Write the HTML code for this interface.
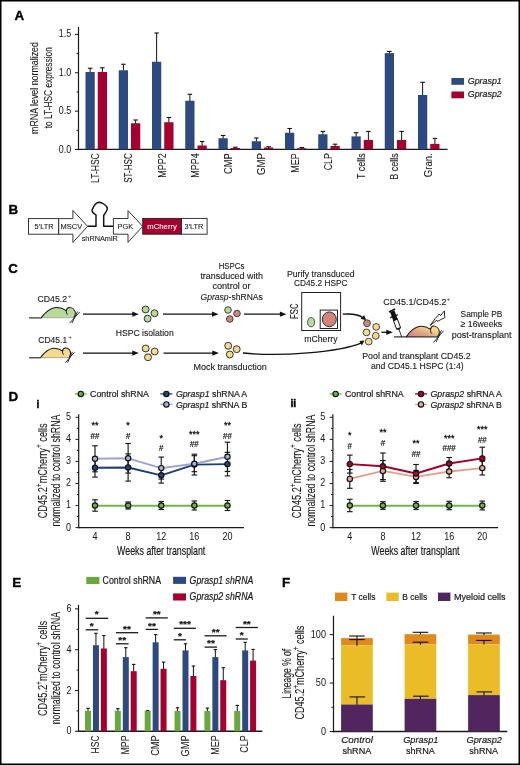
<!DOCTYPE html>
<html><head><meta charset="utf-8"><style>
html,body{margin:0;padding:0;background:#fff;}
svg{display:block;will-change:transform;}
text{font-family:"Liberation Sans", sans-serif;}
</style></head><body>
<svg width="520" height="765" viewBox="0 0 520 765" font-family='"Liberation Sans", sans-serif'>
<rect x="0" y="0" width="520" height="765" fill="#fff"/>
<text x="14.6" y="19.9" font-size="13.4" text-anchor="start" fill="#000" stroke="#000" stroke-width="0.35" style="font-weight:bold;">A</text>
<line x1="78.5" y1="27" x2="78.5" y2="150.1" stroke="#1a1a1a" stroke-width="1.2"/>
<line x1="77.9" y1="149.35" x2="447.6" y2="149.35" stroke="#1a1a1a" stroke-width="1.4"/>
<line x1="75" y1="34.4" x2="78.5" y2="34.4" stroke="#1a1a1a" stroke-width="1"/>
<text x="71.2" y="37.4" font-size="11.2" text-anchor="end" fill="#1a1a1a" stroke="#1a1a1a" stroke-width="0.02" textLength="12.45" lengthAdjust="spacingAndGlyphs">1.5</text>
<line x1="75" y1="72.77" x2="78.5" y2="72.77" stroke="#1a1a1a" stroke-width="1"/>
<text x="71.2" y="75.77" font-size="11.2" text-anchor="end" fill="#1a1a1a" stroke="#1a1a1a" stroke-width="0.02" textLength="12.45" lengthAdjust="spacingAndGlyphs">1.0</text>
<line x1="75" y1="111.13" x2="78.5" y2="111.13" stroke="#1a1a1a" stroke-width="1"/>
<text x="71.2" y="114.13" font-size="11.2" text-anchor="end" fill="#1a1a1a" stroke="#1a1a1a" stroke-width="0.02" textLength="12.45" lengthAdjust="spacingAndGlyphs">0.5</text>
<line x1="75" y1="149.5" x2="78.5" y2="149.5" stroke="#1a1a1a" stroke-width="1"/>
<text x="71.2" y="152.5" font-size="11.2" text-anchor="end" fill="#1a1a1a" stroke="#1a1a1a" stroke-width="0.02" textLength="12.45" lengthAdjust="spacingAndGlyphs">0.0</text>
<line x1="76.6" y1="53.6" x2="78.5" y2="53.6" stroke="#1a1a1a" stroke-width="1"/>
<line x1="76.6" y1="91.95" x2="78.5" y2="91.95" stroke="#1a1a1a" stroke-width="1"/>
<line x1="76.6" y1="130.3" x2="78.5" y2="130.3" stroke="#1a1a1a" stroke-width="1"/>
<text transform="translate(38.1 133.9) rotate(-90)" font-size="11.5" text-anchor="start" fill="#1a1a1a" stroke="#1a1a1a" stroke-width="0.08" textLength="91.8" lengthAdjust="spacingAndGlyphs">mRNA level normalized</text>
<text transform="translate(51.9 128.2) rotate(-90)" font-size="11.5" text-anchor="start" fill="#1a1a1a" stroke="#1a1a1a" stroke-width="0.08" textLength="81" lengthAdjust="spacingAndGlyphs">to LT-HSC expression</text>
<line x1="90.12" y1="68.25" x2="90.12" y2="72.5" stroke="#111" stroke-width="1"/>
<line x1="87.88" y1="68.25" x2="92.38" y2="68.25" stroke="#111" stroke-width="1.1"/>
<line x1="102.38" y1="67.75" x2="102.38" y2="72.5" stroke="#111" stroke-width="1"/>
<line x1="100.12" y1="67.75" x2="104.62" y2="67.75" stroke="#111" stroke-width="1.1"/>
<rect x="85.5" y="72" width="9.25" height="77.35" fill="#2d4a80"/>
<rect x="97.75" y="72" width="9.25" height="77.35" fill="#a5002e"/>
<text transform="translate(99 153.2) rotate(-90)" font-size="10.8" text-anchor="end" fill="#1a1a1a" stroke="#1a1a1a" stroke-width="0.08" textLength="29.8" lengthAdjust="spacingAndGlyphs">LT-HSC</text>
<line x1="123.38" y1="64.25" x2="123.38" y2="70.75" stroke="#111" stroke-width="1"/>
<line x1="121.12" y1="64.25" x2="125.62" y2="64.25" stroke="#111" stroke-width="1.1"/>
<line x1="135.62" y1="120" x2="135.62" y2="123.75" stroke="#111" stroke-width="1"/>
<line x1="133.38" y1="120" x2="137.88" y2="120" stroke="#111" stroke-width="1.1"/>
<rect x="118.75" y="70.25" width="9.25" height="79.1" fill="#2d4a80"/>
<rect x="131" y="123.25" width="9.25" height="26.1" fill="#a5002e"/>
<text transform="translate(132.25 153.2) rotate(-90)" font-size="10.8" text-anchor="end" fill="#1a1a1a" stroke="#1a1a1a" stroke-width="0.08" textLength="29.6" lengthAdjust="spacingAndGlyphs">ST-HSC</text>
<line x1="156.62" y1="33" x2="156.62" y2="62.25" stroke="#111" stroke-width="1"/>
<line x1="154.38" y1="33" x2="158.88" y2="33" stroke="#111" stroke-width="1.1"/>
<line x1="168.88" y1="117.5" x2="168.88" y2="122.75" stroke="#111" stroke-width="1"/>
<line x1="166.62" y1="117.5" x2="171.12" y2="117.5" stroke="#111" stroke-width="1.1"/>
<rect x="152" y="61.75" width="9.25" height="87.6" fill="#2d4a80"/>
<rect x="164.25" y="122.25" width="9.25" height="27.1" fill="#a5002e"/>
<text transform="translate(165.5 153.2) rotate(-90)" font-size="10.8" text-anchor="end" fill="#1a1a1a" stroke="#1a1a1a" stroke-width="0.08" textLength="24.5" lengthAdjust="spacingAndGlyphs">MPP2</text>
<line x1="189.88" y1="94.25" x2="189.88" y2="101.25" stroke="#111" stroke-width="1"/>
<line x1="187.62" y1="94.25" x2="192.12" y2="94.25" stroke="#111" stroke-width="1.1"/>
<line x1="202.12" y1="141.5" x2="202.12" y2="146" stroke="#111" stroke-width="1"/>
<line x1="199.88" y1="141.5" x2="204.38" y2="141.5" stroke="#111" stroke-width="1.1"/>
<rect x="185.25" y="100.75" width="9.25" height="48.6" fill="#2d4a80"/>
<rect x="197.5" y="145.5" width="9.25" height="3.85" fill="#a5002e"/>
<text transform="translate(198.75 153.2) rotate(-90)" font-size="10.8" text-anchor="end" fill="#1a1a1a" stroke="#1a1a1a" stroke-width="0.08" textLength="24.5" lengthAdjust="spacingAndGlyphs">MPP4</text>
<line x1="223.12" y1="135.5" x2="223.12" y2="138.75" stroke="#111" stroke-width="1"/>
<line x1="220.88" y1="135.5" x2="225.38" y2="135.5" stroke="#111" stroke-width="1.1"/>
<line x1="235.38" y1="147.25" x2="235.38" y2="148.5" stroke="#111" stroke-width="1"/>
<line x1="233.12" y1="147.25" x2="237.62" y2="147.25" stroke="#111" stroke-width="1.1"/>
<rect x="218.5" y="138.25" width="9.25" height="11.1" fill="#2d4a80"/>
<rect x="230.75" y="148" width="9.25" height="1.35" fill="#a5002e"/>
<text transform="translate(232 153.2) rotate(-90)" font-size="10.8" text-anchor="end" fill="#1a1a1a" stroke="#1a1a1a" stroke-width="0.08" textLength="20.8" lengthAdjust="spacingAndGlyphs">CMP</text>
<line x1="256.38" y1="138" x2="256.38" y2="141.75" stroke="#111" stroke-width="1"/>
<line x1="254.12" y1="138" x2="258.62" y2="138" stroke="#111" stroke-width="1.1"/>
<line x1="268.62" y1="146.75" x2="268.62" y2="148" stroke="#111" stroke-width="1"/>
<line x1="266.38" y1="146.75" x2="270.88" y2="146.75" stroke="#111" stroke-width="1.1"/>
<rect x="251.75" y="141.25" width="9.25" height="8.1" fill="#2d4a80"/>
<rect x="264" y="147.5" width="9.25" height="1.85" fill="#a5002e"/>
<text transform="translate(265.25 153.2) rotate(-90)" font-size="10.8" text-anchor="end" fill="#1a1a1a" stroke="#1a1a1a" stroke-width="0.08" textLength="21.9" lengthAdjust="spacingAndGlyphs">GMP</text>
<line x1="289.62" y1="128.5" x2="289.62" y2="133.25" stroke="#111" stroke-width="1"/>
<line x1="287.38" y1="128.5" x2="291.88" y2="128.5" stroke="#111" stroke-width="1.1"/>
<line x1="301.88" y1="147.5" x2="301.88" y2="148.75" stroke="#111" stroke-width="1"/>
<line x1="299.62" y1="147.5" x2="304.12" y2="147.5" stroke="#111" stroke-width="1.1"/>
<rect x="285" y="132.75" width="9.25" height="16.6" fill="#2d4a80"/>
<rect x="297.25" y="148.25" width="9.25" height="1.1" fill="#a5002e"/>
<text transform="translate(298.5 153.2) rotate(-90)" font-size="10.8" text-anchor="end" fill="#1a1a1a" stroke="#1a1a1a" stroke-width="0.08" textLength="19.6" lengthAdjust="spacingAndGlyphs">MEP</text>
<line x1="322.88" y1="131.4" x2="322.88" y2="134.8" stroke="#111" stroke-width="1"/>
<line x1="320.62" y1="131.4" x2="325.12" y2="131.4" stroke="#111" stroke-width="1.1"/>
<line x1="335.12" y1="144.2" x2="335.12" y2="146.5" stroke="#111" stroke-width="1"/>
<line x1="332.88" y1="144.2" x2="337.38" y2="144.2" stroke="#111" stroke-width="1.1"/>
<rect x="318.25" y="134.3" width="9.25" height="15.05" fill="#2d4a80"/>
<rect x="330.5" y="146" width="9.25" height="3.35" fill="#a5002e"/>
<text transform="translate(331.75 153.2) rotate(-90)" font-size="10.8" text-anchor="end" fill="#1a1a1a" stroke="#1a1a1a" stroke-width="0.08" textLength="17.1" lengthAdjust="spacingAndGlyphs">CLP</text>
<line x1="356.12" y1="132.7" x2="356.12" y2="136.9" stroke="#111" stroke-width="1"/>
<line x1="353.88" y1="132.7" x2="358.38" y2="132.7" stroke="#111" stroke-width="1.1"/>
<line x1="368.38" y1="131.4" x2="368.38" y2="140.5" stroke="#111" stroke-width="1"/>
<line x1="366.12" y1="131.4" x2="370.62" y2="131.4" stroke="#111" stroke-width="1.1"/>
<rect x="351.5" y="136.4" width="9.25" height="12.95" fill="#2d4a80"/>
<rect x="363.75" y="140" width="9.25" height="9.35" fill="#a5002e"/>
<text transform="translate(365 153.2) rotate(-90)" font-size="10.8" text-anchor="end" fill="#1a1a1a" stroke="#1a1a1a" stroke-width="0.08" textLength="25.8" lengthAdjust="spacingAndGlyphs">T cells</text>
<line x1="389.38" y1="51.4" x2="389.38" y2="53.6" stroke="#111" stroke-width="1"/>
<line x1="387.12" y1="51.4" x2="391.62" y2="51.4" stroke="#111" stroke-width="1.1"/>
<line x1="401.62" y1="131.4" x2="401.62" y2="140.5" stroke="#111" stroke-width="1"/>
<line x1="399.38" y1="131.4" x2="403.88" y2="131.4" stroke="#111" stroke-width="1.1"/>
<rect x="384.75" y="53.1" width="9.25" height="96.25" fill="#2d4a80"/>
<rect x="397" y="140" width="9.25" height="9.35" fill="#a5002e"/>
<text transform="translate(398.25 153.2) rotate(-90)" font-size="10.8" text-anchor="end" fill="#1a1a1a" stroke="#1a1a1a" stroke-width="0.08" textLength="26.5" lengthAdjust="spacingAndGlyphs">B cells</text>
<line x1="422.62" y1="82.3" x2="422.62" y2="95.5" stroke="#111" stroke-width="1"/>
<line x1="420.38" y1="82.3" x2="424.88" y2="82.3" stroke="#111" stroke-width="1.1"/>
<line x1="434.88" y1="138.4" x2="434.88" y2="144.4" stroke="#111" stroke-width="1"/>
<line x1="432.62" y1="138.4" x2="437.12" y2="138.4" stroke="#111" stroke-width="1.1"/>
<rect x="418" y="95" width="9.25" height="54.35" fill="#2d4a80"/>
<rect x="430.25" y="143.9" width="9.25" height="5.45" fill="#a5002e"/>
<text transform="translate(431.5 153.2) rotate(-90)" font-size="10.8" text-anchor="end" fill="#1a1a1a" stroke="#1a1a1a" stroke-width="0.08" textLength="24.1" lengthAdjust="spacingAndGlyphs">Gran.</text>
<rect x="451.4" y="78" width="12.6" height="6.8" fill="#2d4a80"/>
<rect x="451.4" y="91.5" width="12.6" height="6.8" fill="#a5002e"/>
<text x="467.8" y="84.1" font-size="9.4" text-anchor="start" fill="#1a1a1a" stroke="#1a1a1a" stroke-width="0.2" style="font-style:italic;" textLength="34" lengthAdjust="spacingAndGlyphs">Gprasp1</text>
<text x="467.8" y="97.4" font-size="9.4" text-anchor="start" fill="#1a1a1a" stroke="#1a1a1a" stroke-width="0.2" style="font-style:italic;" textLength="34" lengthAdjust="spacingAndGlyphs">Gprasp2</text>
<text x="8.6" y="213.6" font-size="13.4" text-anchor="start" fill="#000" stroke="#000" stroke-width="0.35" style="font-weight:bold;">B</text>
<rect x="28.5" y="218.6" width="30.2" height="15.6" fill="#fff" stroke="#222" stroke-width="0.9"/>
<polygon points="58.7,218.6 72.9,218.6 72.9,210.4 87.6,226.4 72.9,242.4 72.9,234.2 58.7,234.2" fill="#fff" stroke="#222" stroke-width="0.9"/>
<path d="M87.6,226.2 L96,226.2 L96,214.8 C93.5,213.5 91.2,212.2 92.2,209.6 C93.6,206.3 96.2,202.4 99,202.3 C101.8,202.4 106,205 107.2,207.6 C108,209.8 105.6,212.8 103.7,215.3 L103.7,226.2 L113.5,226.2" fill="none" stroke="#111" stroke-width="1.45" stroke-linejoin="round"/>
<polygon points="113.4,218.5 128,218.5 128,210.6 142.7,226.4 128,242.3 128,234.2 113.4,234.2" fill="#fff" stroke="#222" stroke-width="0.9"/>
<rect x="142.7" y="218.4" width="38.8" height="15.8" fill="#a5002e" stroke="#222" stroke-width="0.9"/>
<rect x="181.5" y="218.4" width="25.6" height="15.8" fill="#fff" stroke="#222" stroke-width="0.9"/>
<text x="34.5" y="228.8" font-size="7.9" text-anchor="start" fill="#1a1a1a" stroke="#1a1a1a" stroke-width="0.1" textLength="18.9" lengthAdjust="spacingAndGlyphs">5’LTR</text>
<text x="60.5" y="228.8" font-size="7.9" text-anchor="start" fill="#1a1a1a" stroke="#1a1a1a" stroke-width="0.1" textLength="21.7" lengthAdjust="spacingAndGlyphs">MSCV</text>
<text x="117.5" y="228.8" font-size="7.9" text-anchor="start" fill="#1a1a1a" stroke="#1a1a1a" stroke-width="0.1" textLength="15.6" lengthAdjust="spacingAndGlyphs">PGK</text>
<text x="147.3" y="228.8" font-size="7.9" text-anchor="start" fill="#fff" stroke="#fff" stroke-width="0.1" textLength="29.6" lengthAdjust="spacingAndGlyphs">mCherry</text>
<text x="184.4" y="228.8" font-size="7.9" text-anchor="start" fill="#1a1a1a" stroke="#1a1a1a" stroke-width="0.1" textLength="18.9" lengthAdjust="spacingAndGlyphs">3’LTR</text>
<text x="81.7" y="241.4" font-size="7.9" text-anchor="start" fill="#1a1a1a" stroke="#1a1a1a" stroke-width="0.1" textLength="36.2" lengthAdjust="spacingAndGlyphs">shRNAmiR</text>
<text x="8.3" y="273" font-size="13.4" text-anchor="start" fill="#000" stroke="#000" stroke-width="0.35" style="font-weight:bold;">C</text>
<defs><linearGradient id="mg" x1="0.15" y1="1" x2="0.95" y2="0.25"><stop offset="0" stop-color="#d4837c"/><stop offset="0.45" stop-color="#e0a487"/><stop offset="0.72" stop-color="#eac48a"/><stop offset="0.85" stop-color="#f4d98c"/></linearGradient></defs>
<text x="37.5" y="302" font-size="9.6" text-anchor="start" fill="#1a1a1a" stroke="#1a1a1a" stroke-width="0.12" textLength="29.6" lengthAdjust="spacingAndGlyphs">CD45.2</text>
<text x="67.9" y="298.2" font-size="5.6" text-anchor="start" fill="#1a1a1a">+</text>
<text x="38.3" y="342.5" font-size="9.6" text-anchor="start" fill="#1a1a1a" stroke="#1a1a1a" stroke-width="0.12" textLength="28.9" lengthAdjust="spacingAndGlyphs">CD45.1</text>
<text x="68.4" y="338.7" font-size="5.6" text-anchor="start" fill="#1a1a1a">+</text>
<path d="M41.1,317.9 C44.3,313.7 49.1,308.3 55.5,307.6 C59.6,307.2 63.5,308.7 66.3,310.6 C66.6,308.6 67.7,307.4 69.5,307.4 C72.1,307.4 74.7,309.5 75.3,312.3 C75.7,314.5 74.8,316.4 73.6,317.6 L41.1,317.9 Z" fill="#b7d99c" stroke="none"/>
<line x1="41.1" y1="317.7" x2="73.6" y2="317.7" stroke="#9a9a9a" stroke-width="0.8"/>
<path d="M41.1,317.9 C44.3,313.7 49.1,308.3 55.5,307.6 C59.6,307.2 63.5,308.7 66.3,310.6 C66.6,308.6 67.7,307.4 69.5,307.4 C72.1,307.4 74.7,309.5 75.3,312.3 C75.7,314.5 74.8,316.4 73.6,317.6" fill="none" stroke="#1a1a1a" stroke-width="1.05" stroke-linejoin="round"/>
<path d="M66.3,310.6 C66.1,312.3 66.6,313.9 67.5,314.7" fill="none" stroke="#1a1a1a" stroke-width="1.0"/>
<line x1="29" y1="317.9" x2="41.4" y2="317.9" stroke="#1a1a1a" stroke-width="1.1"/>
<path d="M69.5,323.2 L79.8,311.9 M72,323 L77.5,311.5" stroke="#1a1a1a" stroke-width="0.9" fill="none"/>
<path d="M40.4,357.8 C43.22,353.89 47.44,348.87 53.07,348.22 C56.68,347.85 60.11,349.24 62.58,351.01 C62.84,349.15 63.81,348.04 65.39,348.04 C67.68,348.04 69.97,349.99 70.5,352.59 C70.85,354.64 70.06,356.41 69,357.52 L40.4,357.8 Z" fill="#f6d98a" stroke="none"/>
<line x1="40.4" y1="357.6" x2="69" y2="357.6" stroke="#9a9a9a" stroke-width="0.8"/>
<path d="M40.4,357.8 C43.22,353.89 47.44,348.87 53.07,348.22 C56.68,347.85 60.11,349.24 62.58,351.01 C62.84,349.15 63.81,348.04 65.39,348.04 C67.68,348.04 69.97,349.99 70.5,352.59 C70.85,354.64 70.06,356.41 69,357.52" fill="none" stroke="#1a1a1a" stroke-width="1.05" stroke-linejoin="round"/>
<path d="M62.58,351.01 C62.4,352.59 62.84,354.08 63.63,354.82" fill="none" stroke="#1a1a1a" stroke-width="1.0"/>
<line x1="29.1" y1="357.8" x2="40.7" y2="357.8" stroke="#1a1a1a" stroke-width="1.1"/>
<path d="M65.39,362.73 L74.46,352.22 M67.59,362.54 L72.43,351.85" stroke="#1a1a1a" stroke-width="0.9" fill="none"/>
<line x1="83" y1="314.2" x2="133.8" y2="314.2" stroke="#111" stroke-width="1.3"/>
<polygon points="132.3,311.6 138.8,314.2 132.3,316.8" fill="#111"/>
<circle cx="145.6" cy="309.5" r="3.45" fill="#b7d99c" stroke="#2a2a2a" stroke-width="0.95"/>
<circle cx="154.5" cy="313.2" r="3.45" fill="#b7d99c" stroke="#2a2a2a" stroke-width="0.95"/>
<circle cx="147.6" cy="318.6" r="3.45" fill="#b7d99c" stroke="#2a2a2a" stroke-width="0.95"/>
<line x1="163" y1="314.2" x2="213.5" y2="314.2" stroke="#111" stroke-width="1.3"/>
<polygon points="212,311.6 218.5,314.2 212,316.8" fill="#111"/>
<circle cx="228" cy="310" r="3.3" fill="#b7d99c" stroke="#333" stroke-width="0.9"/>
<circle cx="237" cy="313.5" r="3.3" fill="#d4857a" stroke="#333" stroke-width="0.9"/>
<circle cx="229.8" cy="319" r="3.3" fill="#d4857a" stroke="#333" stroke-width="0.9"/>
<line x1="244" y1="314.2" x2="281.4" y2="314.2" stroke="#111" stroke-width="1.3"/>
<polygon points="279.9,311.6 286.4,314.2 279.9,316.8" fill="#111"/>
<line x1="83" y1="353.1" x2="133.8" y2="353.1" stroke="#111" stroke-width="1.3"/>
<polygon points="132.3,350.5 138.8,353.1 132.3,355.7" fill="#111"/>
<circle cx="145.7" cy="348.5" r="3.45" fill="#f6d98a" stroke="#2a2a2a" stroke-width="0.95"/>
<circle cx="154.7" cy="351.5" r="3.45" fill="#f6d98a" stroke="#2a2a2a" stroke-width="0.95"/>
<circle cx="148" cy="357.3" r="3.45" fill="#f6d98a" stroke="#2a2a2a" stroke-width="0.95"/>
<line x1="163.5" y1="353.1" x2="213.9" y2="353.1" stroke="#111" stroke-width="1.3"/>
<polygon points="212.4,350.5 218.9,353.1 212.4,355.7" fill="#111"/>
<circle cx="228.2" cy="345.8" r="3.45" fill="#f6d98a" stroke="#2a2a2a" stroke-width="0.95"/>
<circle cx="236.7" cy="349.2" r="3.45" fill="#f6d98a" stroke="#2a2a2a" stroke-width="0.95"/>
<circle cx="229.8" cy="354.5" r="3.45" fill="#f6d98a" stroke="#2a2a2a" stroke-width="0.95"/>
<text x="115.8" y="336" font-size="9.6" text-anchor="start" fill="#1a1a1a" stroke="#1a1a1a" stroke-width="0.12" textLength="57.9" lengthAdjust="spacingAndGlyphs">HSPC isolation</text>
<text x="218.7" y="268.7" font-size="9.6" text-anchor="start" fill="#1a1a1a" stroke="#1a1a1a" stroke-width="0.12" textLength="25.8" lengthAdjust="spacingAndGlyphs">HSPCs</text>
<text x="200.4" y="279.2" font-size="9.6" text-anchor="start" fill="#1a1a1a" stroke="#1a1a1a" stroke-width="0.12" textLength="62.5" lengthAdjust="spacingAndGlyphs">transduced with</text>
<text x="212.4" y="289.4" font-size="9.6" text-anchor="start" fill="#1a1a1a" stroke="#1a1a1a" stroke-width="0.12" textLength="38.1" lengthAdjust="spacingAndGlyphs">control or</text>
<text x="200.6" y="299.6" font-size="9.6" text-anchor="start" fill="#1a1a1a" stroke="#1a1a1a" stroke-width="0.12" textLength="62.2" lengthAdjust="spacingAndGlyphs"><tspan style="font-style:italic">Gprasp</tspan>-shRNAs</text>
<text x="286.9" y="276.7" font-size="9.6" text-anchor="start" fill="#1a1a1a" stroke="#1a1a1a" stroke-width="0.12" textLength="67.7" lengthAdjust="spacingAndGlyphs">Purify transduced</text>
<text x="294" y="286.3" font-size="9.6" text-anchor="start" fill="#1a1a1a" stroke="#1a1a1a" stroke-width="0.12" textLength="53.5" lengthAdjust="spacingAndGlyphs">CD45.2 HSPC</text>
<text x="193.5" y="369.5" font-size="9.6" text-anchor="start" fill="#1a1a1a" stroke="#1a1a1a" stroke-width="0.12" textLength="73.2" lengthAdjust="spacingAndGlyphs">Mock transduction</text>
<rect x="301.7" y="292.5" width="38.9" height="38" fill="#fff" stroke="#222" stroke-width="1"/>
<rect x="320.2" y="310.1" width="17.3" height="18.4" fill="none" stroke="#222" stroke-width="1"/>
<ellipse cx="329.3" cy="319.3" rx="7" ry="7.4" fill="#d4857a" stroke="#222" stroke-width="0.9"/>
<ellipse cx="311.1" cy="322.2" rx="3.5" ry="4.6" fill="#b7d99c" stroke="#333" stroke-width="0.8"/>
<text transform="translate(297.6 318.9) rotate(-90)" font-size="10" text-anchor="start" fill="#1a1a1a" stroke="#1a1a1a" stroke-width="0.12" textLength="15.3" lengthAdjust="spacingAndGlyphs">FSC</text>
<text x="304.3" y="341.6" font-size="9.6" text-anchor="start" fill="#1a1a1a" stroke="#1a1a1a" stroke-width="0.12" textLength="33.2" lengthAdjust="spacingAndGlyphs">mCherry</text>
<path d="M342.7,314.2 C352,313.5 359,314.5 363.5,318" fill="none" stroke="#111" stroke-width="1.3"/>
<polygon points="366.2,320.3 360.5,318.8 364.2,315.2" fill="#111"/>
<path d="M243,353 C280,357 340,352 361.5,342.8" fill="none" stroke="#111" stroke-width="1.3"/>
<polygon points="364.5,340.5 361.9,345.6 359.4,340.9" fill="#111"/>
<circle cx="367" cy="323.2" r="3.4" fill="#d4857a" stroke="#333" stroke-width="0.9"/>
<circle cx="376.2" cy="326.9" r="3.4" fill="#f6d98a" stroke="#333" stroke-width="0.9"/>
<circle cx="366.5" cy="332.4" r="3.4" fill="#f6d98a" stroke="#333" stroke-width="0.9"/>
<circle cx="375.8" cy="335.8" r="3.4" fill="#f6d98a" stroke="#333" stroke-width="0.9"/>
<circle cx="368.7" cy="341.6" r="3.4" fill="#f6d98a" stroke="#333" stroke-width="0.9"/>
<line x1="381.4" y1="332.3" x2="387.8" y2="332.3" stroke="#111" stroke-width="1.3"/>
<polygon points="386.3,329.7 392.8,332.3 386.3,334.9" fill="#111"/>
<text x="362.2" y="358.7" font-size="9.6" text-anchor="start" fill="#1a1a1a" stroke="#1a1a1a" stroke-width="0.12" textLength="108.5" lengthAdjust="spacingAndGlyphs">Pool and transplant CD45.2</text>
<text x="370.9" y="368.6" font-size="9.6" text-anchor="start" fill="#1a1a1a" stroke="#1a1a1a" stroke-width="0.12" textLength="92.7" lengthAdjust="spacingAndGlyphs">and CD45.1 HSPC (1:4)</text>
<g transform="translate(401.7 336.8) rotate(-20.3)"><line x1="0" y1="0" x2="0" y2="-8" stroke="#222" stroke-width="0.85"/><polygon points="-1.1,-7.6 1.1,-7.6 2,-9.2 -2,-9.2" fill="#111"/><rect x="-2.1" y="-18" width="4.2" height="9" fill="#fff" stroke="#111" stroke-width="0.95"/><rect x="-2.35" y="-27.2" width="4.7" height="9.6" fill="#111"/><rect x="-4.2" y="-22.6" width="8.4" height="1.2" fill="#111"/><polygon points="-3.4,-27 3.6,-27.6 3.6,-29.2 -3.4,-28.4" fill="#111"/></g>
<path d="M406.1,336.9 C409.2,332.57 413.86,327.01 420.07,326.29 C424.05,325.88 427.83,327.42 430.54,329.38 C430.84,327.32 431.9,326.08 433.65,326.08 C436.17,326.08 438.69,328.25 439.27,331.13 C439.66,333.4 438.79,335.35 437.62,336.59 L406.1,336.9 Z" fill="url(#mg)" stroke="none"/>
<path d="M406.1,336.9 C409.2,332.57 413.86,327.01 420.07,326.29 C424.05,325.88 427.83,327.42 430.54,329.38 C430.84,327.32 431.9,326.08 433.65,326.08 C436.17,326.08 438.69,328.25 439.27,331.13 C439.66,333.4 438.79,335.35 437.62,336.59" fill="none" stroke="#1a1a1a" stroke-width="1.05" stroke-linejoin="round"/>
<path d="M430.54,329.38 C430.35,331.13 430.84,332.78 431.71,333.6" fill="none" stroke="#1a1a1a" stroke-width="1.0"/>
<line x1="393.9" y1="336.9" x2="406.4" y2="336.9" stroke="#1a1a1a" stroke-width="1.1"/>
<line x1="406.1" y1="336.9" x2="438" y2="336.9" stroke="#1a1a1a" stroke-width="1.1"/>
<path d="M433.65,342.36 L443.64,330.72 M436.07,342.15 L441.41,330.31" stroke="#1a1a1a" stroke-width="0.9" fill="none"/>
<path d="M430.2,325.4 L435.5,318.2 L439.3,314.0 L440.4,315.6 L444.3,310.9 L444.8,317.6 L440.8,319.6 L437.5,321.4 L436.8,320.2 Z" fill="#fff" stroke="#111" stroke-width="0.9" stroke-linejoin="round"/>
<text x="383.2" y="304.8" font-size="9.6" text-anchor="start" fill="#1a1a1a" stroke="#1a1a1a" stroke-width="0.12" textLength="63.2" lengthAdjust="spacingAndGlyphs">CD45.1/CD45.2</text>
<text x="446.8" y="301" font-size="5.6" text-anchor="start" fill="#1a1a1a">+</text>
<text x="460.6" y="316.5" font-size="9.6" text-anchor="start" fill="#1a1a1a" stroke="#1a1a1a" stroke-width="0.12" textLength="41.8" lengthAdjust="spacingAndGlyphs">Sample PB</text>
<text x="460.6" y="327" font-size="9.6" text-anchor="start" fill="#1a1a1a" stroke="#1a1a1a" stroke-width="0.12" textLength="41.6" lengthAdjust="spacingAndGlyphs">≥ 16weeks</text>
<text x="451.7" y="337.7" font-size="9.6" text-anchor="start" fill="#1a1a1a" stroke="#1a1a1a" stroke-width="0.12" textLength="59.8" lengthAdjust="spacingAndGlyphs">post-transplant</text>
<text x="8.5" y="400.5" font-size="13.4" text-anchor="start" fill="#000" stroke="#000" stroke-width="0.35" style="font-weight:bold;">D</text>
<text x="36.5" y="407.5" font-size="10.2" text-anchor="start" fill="#000" stroke="#000" stroke-width="0.45" style="font-weight:bold;">i</text>
<text x="290.4" y="407.3" font-size="10.2" text-anchor="start" fill="#000" stroke="#000" stroke-width="0.45" style="font-weight:bold;">ii</text>
<line x1="78.7" y1="414.2" x2="78.7" y2="528.3" stroke="#1a1a1a" stroke-width="1.2"/>
<line x1="78.1" y1="527.6" x2="243.9" y2="527.6" stroke="#1a1a1a" stroke-width="1.4"/>
<line x1="75.5" y1="527.6" x2="78.7" y2="527.6" stroke="#1a1a1a" stroke-width="1"/>
<text x="71.1" y="530.55" font-size="11.3" text-anchor="end" fill="#1a1a1a" stroke="#1a1a1a" stroke-width="0.02" textLength="5.03" lengthAdjust="spacingAndGlyphs">0</text>
<line x1="75.5" y1="505.54" x2="78.7" y2="505.54" stroke="#1a1a1a" stroke-width="1"/>
<text x="71.1" y="508.49" font-size="11.3" text-anchor="end" fill="#1a1a1a" stroke="#1a1a1a" stroke-width="0.02" textLength="5.03" lengthAdjust="spacingAndGlyphs">1</text>
<line x1="75.5" y1="483.48" x2="78.7" y2="483.48" stroke="#1a1a1a" stroke-width="1"/>
<text x="71.1" y="486.43" font-size="11.3" text-anchor="end" fill="#1a1a1a" stroke="#1a1a1a" stroke-width="0.02" textLength="5.03" lengthAdjust="spacingAndGlyphs">2</text>
<line x1="75.5" y1="461.42" x2="78.7" y2="461.42" stroke="#1a1a1a" stroke-width="1"/>
<text x="71.1" y="464.37" font-size="11.3" text-anchor="end" fill="#1a1a1a" stroke="#1a1a1a" stroke-width="0.02" textLength="5.03" lengthAdjust="spacingAndGlyphs">3</text>
<line x1="75.5" y1="439.36" x2="78.7" y2="439.36" stroke="#1a1a1a" stroke-width="1"/>
<text x="71.1" y="442.31" font-size="11.3" text-anchor="end" fill="#1a1a1a" stroke="#1a1a1a" stroke-width="0.02" textLength="5.03" lengthAdjust="spacingAndGlyphs">4</text>
<line x1="75.5" y1="417.3" x2="78.7" y2="417.3" stroke="#1a1a1a" stroke-width="1"/>
<text x="71.1" y="420.25" font-size="11.3" text-anchor="end" fill="#1a1a1a" stroke="#1a1a1a" stroke-width="0.02" textLength="5.03" lengthAdjust="spacingAndGlyphs">5</text>
<line x1="76.8" y1="516.57" x2="78.7" y2="516.57" stroke="#1a1a1a" stroke-width="1"/>
<line x1="76.8" y1="494.51" x2="78.7" y2="494.51" stroke="#1a1a1a" stroke-width="1"/>
<line x1="76.8" y1="472.45" x2="78.7" y2="472.45" stroke="#1a1a1a" stroke-width="1"/>
<line x1="76.8" y1="450.39" x2="78.7" y2="450.39" stroke="#1a1a1a" stroke-width="1"/>
<line x1="76.8" y1="428.33" x2="78.7" y2="428.33" stroke="#1a1a1a" stroke-width="1"/>
<text x="95" y="539.5" font-size="11.3" text-anchor="middle" fill="#1a1a1a" stroke="#1a1a1a" stroke-width="0.02" textLength="5.03" lengthAdjust="spacingAndGlyphs">4</text>
<text x="128.12" y="539.5" font-size="11.3" text-anchor="middle" fill="#1a1a1a" stroke="#1a1a1a" stroke-width="0.02" textLength="5.03" lengthAdjust="spacingAndGlyphs">8</text>
<text x="161.24" y="539.5" font-size="11.3" text-anchor="middle" fill="#1a1a1a" stroke="#1a1a1a" stroke-width="0.02" textLength="10.05" lengthAdjust="spacingAndGlyphs">12</text>
<text x="194.36" y="539.5" font-size="11.3" text-anchor="middle" fill="#1a1a1a" stroke="#1a1a1a" stroke-width="0.02" textLength="10.05" lengthAdjust="spacingAndGlyphs">16</text>
<text x="227.48" y="539.5" font-size="11.3" text-anchor="middle" fill="#1a1a1a" stroke="#1a1a1a" stroke-width="0.02" textLength="10.05" lengthAdjust="spacingAndGlyphs">20</text>
<text x="117.1" y="554.5" font-size="12.8" text-anchor="start" fill="#1a1a1a" stroke="#1a1a1a" stroke-width="0.2" textLength="88.2" lengthAdjust="spacingAndGlyphs">Weeks after transplant</text>
<text transform="translate(46.8 518.3) rotate(-90)" font-size="12.4" text-anchor="start" fill="#1a1a1a" stroke="#1a1a1a" stroke-width="0.08" textLength="95" lengthAdjust="spacingAndGlyphs">CD45.2<tspan dy="-4.6" font-size="9">+</tspan><tspan dy="4.6">mCherry</tspan><tspan dy="-4.6" font-size="9">+</tspan><tspan dy="4.6"> cells</tspan></text>
<text transform="translate(60 526.6) rotate(-90)" font-size="12.4" text-anchor="start" fill="#1a1a1a" stroke="#1a1a1a" stroke-width="0.08" textLength="112" lengthAdjust="spacingAndGlyphs">normalized to control shRNA</text>
<line x1="95" y1="499.8" x2="95" y2="511.2" stroke="#1a1a1a" stroke-width="1.15"/>
<line x1="92.2" y1="499.8" x2="97.8" y2="499.8" stroke="#1a1a1a" stroke-width="1.15"/>
<line x1="92.2" y1="511.2" x2="97.8" y2="511.2" stroke="#1a1a1a" stroke-width="1.15"/>
<line x1="128.12" y1="502" x2="128.12" y2="509" stroke="#1a1a1a" stroke-width="1.15"/>
<line x1="125.32" y1="502" x2="130.92" y2="502" stroke="#1a1a1a" stroke-width="1.15"/>
<line x1="125.32" y1="509" x2="130.92" y2="509" stroke="#1a1a1a" stroke-width="1.15"/>
<line x1="161.24" y1="501.5" x2="161.24" y2="509.5" stroke="#1a1a1a" stroke-width="1.15"/>
<line x1="158.44" y1="501.5" x2="164.04" y2="501.5" stroke="#1a1a1a" stroke-width="1.15"/>
<line x1="158.44" y1="509.5" x2="164.04" y2="509.5" stroke="#1a1a1a" stroke-width="1.15"/>
<line x1="194.36" y1="501" x2="194.36" y2="510" stroke="#1a1a1a" stroke-width="1.15"/>
<line x1="191.56" y1="501" x2="197.16" y2="501" stroke="#1a1a1a" stroke-width="1.15"/>
<line x1="191.56" y1="510" x2="197.16" y2="510" stroke="#1a1a1a" stroke-width="1.15"/>
<line x1="227.48" y1="500.5" x2="227.48" y2="510.5" stroke="#1a1a1a" stroke-width="1.15"/>
<line x1="224.68" y1="500.5" x2="230.28" y2="500.5" stroke="#1a1a1a" stroke-width="1.15"/>
<line x1="224.68" y1="510.5" x2="230.28" y2="510.5" stroke="#1a1a1a" stroke-width="1.15"/>
<line x1="95" y1="505.8" x2="227.48" y2="505.8" stroke="#70b545" stroke-width="1.9"/>
<circle cx="95" cy="505.5" r="2.65" fill="#6cb33f" stroke="#111" stroke-width="1.15"/>
<circle cx="128.12" cy="505.5" r="2.65" fill="#6cb33f" stroke="#111" stroke-width="1.15"/>
<circle cx="161.24" cy="505.5" r="2.65" fill="#6cb33f" stroke="#111" stroke-width="1.15"/>
<circle cx="194.36" cy="505.5" r="2.65" fill="#6cb33f" stroke="#111" stroke-width="1.15"/>
<circle cx="227.48" cy="505.5" r="2.65" fill="#6cb33f" stroke="#111" stroke-width="1.15"/>
<line x1="95" y1="458.3" x2="95" y2="477.1" stroke="#1a1a1a" stroke-width="1.15"/>
<line x1="92.2" y1="458.3" x2="97.8" y2="458.3" stroke="#1a1a1a" stroke-width="1.15"/>
<line x1="92.2" y1="477.1" x2="97.8" y2="477.1" stroke="#1a1a1a" stroke-width="1.15"/>
<line x1="128.12" y1="453.9" x2="128.12" y2="481.1" stroke="#1a1a1a" stroke-width="1.15"/>
<line x1="125.32" y1="453.9" x2="130.92" y2="453.9" stroke="#1a1a1a" stroke-width="1.15"/>
<line x1="125.32" y1="481.1" x2="130.92" y2="481.1" stroke="#1a1a1a" stroke-width="1.15"/>
<line x1="161.24" y1="467.5" x2="161.24" y2="483.1" stroke="#1a1a1a" stroke-width="1.15"/>
<line x1="158.44" y1="467.5" x2="164.04" y2="467.5" stroke="#1a1a1a" stroke-width="1.15"/>
<line x1="158.44" y1="483.1" x2="164.04" y2="483.1" stroke="#1a1a1a" stroke-width="1.15"/>
<line x1="194.36" y1="454.2" x2="194.36" y2="475" stroke="#1a1a1a" stroke-width="1.15"/>
<line x1="191.56" y1="454.2" x2="197.16" y2="454.2" stroke="#1a1a1a" stroke-width="1.15"/>
<line x1="191.56" y1="475" x2="197.16" y2="475" stroke="#1a1a1a" stroke-width="1.15"/>
<line x1="227.48" y1="452.3" x2="227.48" y2="475.9" stroke="#1a1a1a" stroke-width="1.15"/>
<line x1="224.68" y1="452.3" x2="230.28" y2="452.3" stroke="#1a1a1a" stroke-width="1.15"/>
<line x1="224.68" y1="475.9" x2="230.28" y2="475.9" stroke="#1a1a1a" stroke-width="1.15"/>
<line x1="95" y1="445.8" x2="95" y2="471.8" stroke="#1a1a1a" stroke-width="1.15"/>
<line x1="92.2" y1="445.8" x2="97.8" y2="445.8" stroke="#1a1a1a" stroke-width="1.15"/>
<line x1="92.2" y1="471.8" x2="97.8" y2="471.8" stroke="#1a1a1a" stroke-width="1.15"/>
<line x1="128.12" y1="443.5" x2="128.12" y2="473.1" stroke="#1a1a1a" stroke-width="1.15"/>
<line x1="125.32" y1="443.5" x2="130.92" y2="443.5" stroke="#1a1a1a" stroke-width="1.15"/>
<line x1="125.32" y1="473.1" x2="130.92" y2="473.1" stroke="#1a1a1a" stroke-width="1.15"/>
<line x1="161.24" y1="457.1" x2="161.24" y2="479.1" stroke="#1a1a1a" stroke-width="1.15"/>
<line x1="158.44" y1="457.1" x2="164.04" y2="457.1" stroke="#1a1a1a" stroke-width="1.15"/>
<line x1="158.44" y1="479.1" x2="164.04" y2="479.1" stroke="#1a1a1a" stroke-width="1.15"/>
<line x1="194.36" y1="455.7" x2="194.36" y2="471.7" stroke="#1a1a1a" stroke-width="1.15"/>
<line x1="191.56" y1="455.7" x2="197.16" y2="455.7" stroke="#1a1a1a" stroke-width="1.15"/>
<line x1="191.56" y1="471.7" x2="197.16" y2="471.7" stroke="#1a1a1a" stroke-width="1.15"/>
<line x1="227.48" y1="442.2" x2="227.48" y2="471.4" stroke="#1a1a1a" stroke-width="1.15"/>
<line x1="224.68" y1="442.2" x2="230.28" y2="442.2" stroke="#1a1a1a" stroke-width="1.15"/>
<line x1="224.68" y1="471.4" x2="230.28" y2="471.4" stroke="#1a1a1a" stroke-width="1.15"/>
<polyline points="95,467.7 128.12,467.5 161.24,475.3 194.36,464.6 227.48,464.1" fill="none" stroke="#1f3c7a" stroke-width="1.9" stroke-linejoin="round"/>
<polyline points="95,458.8 128.12,458.3 161.24,468.1 194.36,463.7 227.48,456.8" fill="none" stroke="#9ea2cf" stroke-width="1.9" stroke-linejoin="round"/>
<circle cx="95" cy="467.7" r="2.65" fill="#27437e" stroke="#111" stroke-width="1.15"/>
<circle cx="128.12" cy="467.5" r="2.65" fill="#27437e" stroke="#111" stroke-width="1.15"/>
<circle cx="161.24" cy="475.3" r="2.65" fill="#27437e" stroke="#111" stroke-width="1.15"/>
<circle cx="194.36" cy="464.6" r="2.65" fill="#27437e" stroke="#111" stroke-width="1.15"/>
<circle cx="227.48" cy="464.1" r="2.65" fill="#27437e" stroke="#111" stroke-width="1.15"/>
<circle cx="95" cy="458.8" r="2.65" fill="#a9b0da" stroke="#111" stroke-width="1.15"/>
<circle cx="128.12" cy="458.3" r="2.65" fill="#a9b0da" stroke="#111" stroke-width="1.15"/>
<circle cx="161.24" cy="468.1" r="2.65" fill="#a9b0da" stroke="#111" stroke-width="1.15"/>
<circle cx="194.36" cy="463.7" r="2.65" fill="#a9b0da" stroke="#111" stroke-width="1.15"/>
<circle cx="227.48" cy="456.8" r="2.65" fill="#a9b0da" stroke="#111" stroke-width="1.15"/>
<text x="95" y="428.3" font-size="9" text-anchor="middle" fill="#111" stroke="#111" stroke-width="0.3" textLength="7" lengthAdjust="spacingAndGlyphs">**</text>
<text x="95" y="438.8" font-size="9.2" text-anchor="middle" fill="#111" stroke="#111" stroke-width="0.2" textLength="8.8" lengthAdjust="spacingAndGlyphs">##</text>
<text x="128.12" y="428.3" font-size="9" text-anchor="middle" fill="#111" stroke="#111" stroke-width="0.3" textLength="3.5" lengthAdjust="spacingAndGlyphs">*</text>
<text x="128.12" y="438.8" font-size="9.2" text-anchor="middle" fill="#111" stroke="#111" stroke-width="0.2" textLength="4.4" lengthAdjust="spacingAndGlyphs">#</text>
<text x="161.24" y="441.1" font-size="9" text-anchor="middle" fill="#111" stroke="#111" stroke-width="0.3" textLength="3.5" lengthAdjust="spacingAndGlyphs">*</text>
<text x="161.24" y="451.4" font-size="9.2" text-anchor="middle" fill="#111" stroke="#111" stroke-width="0.2" textLength="4.4" lengthAdjust="spacingAndGlyphs">#</text>
<text x="194.36" y="436.5" font-size="9" text-anchor="middle" fill="#111" stroke="#111" stroke-width="0.3" textLength="10.5" lengthAdjust="spacingAndGlyphs">***</text>
<text x="194.36" y="446.7" font-size="9.2" text-anchor="middle" fill="#111" stroke="#111" stroke-width="0.2" textLength="8.8" lengthAdjust="spacingAndGlyphs">##</text>
<text x="227.48" y="428.3" font-size="9" text-anchor="middle" fill="#111" stroke="#111" stroke-width="0.3" textLength="7" lengthAdjust="spacingAndGlyphs">**</text>
<text x="227.48" y="439.2" font-size="9.2" text-anchor="middle" fill="#111" stroke="#111" stroke-width="0.2" textLength="8.8" lengthAdjust="spacingAndGlyphs">##</text>
<line x1="74.8" y1="393.9" x2="86.8" y2="393.9" stroke="#70b545" stroke-width="1.3"/>
<circle cx="80.8" cy="393.9" r="2.65" fill="#6cb33f" stroke="#111" stroke-width="1.15"/>
<text x="90.1" y="397.1" font-size="9.2" text-anchor="start" fill="#1a1a1a" stroke="#1a1a1a" stroke-width="0.2" textLength="58.8" lengthAdjust="spacingAndGlyphs">Control shRNA</text>
<line x1="160.4" y1="393.9" x2="172.4" y2="393.9" stroke="#1f3c7a" stroke-width="1.3"/>
<circle cx="166.4" cy="393.9" r="2.65" fill="#27437e" stroke="#111" stroke-width="1.15"/>
<text x="175.9" y="397.1" font-size="9.2" text-anchor="start" fill="#1a1a1a" stroke="#1a1a1a" stroke-width="0.2" textLength="71.3" lengthAdjust="spacingAndGlyphs"><tspan style="font-style:italic">Gprasp1</tspan> shRNA A</text>
<line x1="160.4" y1="404.4" x2="172.4" y2="404.4" stroke="#9ea2cf" stroke-width="1.3"/>
<circle cx="166.4" cy="404.4" r="2.65" fill="#a9b0da" stroke="#111" stroke-width="1.15"/>
<text x="175.9" y="407.6" font-size="9.2" text-anchor="start" fill="#1a1a1a" stroke="#1a1a1a" stroke-width="0.2" textLength="71.3" lengthAdjust="spacingAndGlyphs"><tspan style="font-style:italic">Gprasp1</tspan> shRNA B</text>
<line x1="332.9" y1="414.2" x2="332.9" y2="528.3" stroke="#1a1a1a" stroke-width="1.2"/>
<line x1="332.3" y1="527.6" x2="498.1" y2="527.6" stroke="#1a1a1a" stroke-width="1.4"/>
<line x1="329.7" y1="527.6" x2="332.9" y2="527.6" stroke="#1a1a1a" stroke-width="1"/>
<text x="325.3" y="530.55" font-size="11.3" text-anchor="end" fill="#1a1a1a" stroke="#1a1a1a" stroke-width="0.02" textLength="5.03" lengthAdjust="spacingAndGlyphs">0</text>
<line x1="329.7" y1="505.54" x2="332.9" y2="505.54" stroke="#1a1a1a" stroke-width="1"/>
<text x="325.3" y="508.49" font-size="11.3" text-anchor="end" fill="#1a1a1a" stroke="#1a1a1a" stroke-width="0.02" textLength="5.03" lengthAdjust="spacingAndGlyphs">1</text>
<line x1="329.7" y1="483.48" x2="332.9" y2="483.48" stroke="#1a1a1a" stroke-width="1"/>
<text x="325.3" y="486.43" font-size="11.3" text-anchor="end" fill="#1a1a1a" stroke="#1a1a1a" stroke-width="0.02" textLength="5.03" lengthAdjust="spacingAndGlyphs">2</text>
<line x1="329.7" y1="461.42" x2="332.9" y2="461.42" stroke="#1a1a1a" stroke-width="1"/>
<text x="325.3" y="464.37" font-size="11.3" text-anchor="end" fill="#1a1a1a" stroke="#1a1a1a" stroke-width="0.02" textLength="5.03" lengthAdjust="spacingAndGlyphs">3</text>
<line x1="329.7" y1="439.36" x2="332.9" y2="439.36" stroke="#1a1a1a" stroke-width="1"/>
<text x="325.3" y="442.31" font-size="11.3" text-anchor="end" fill="#1a1a1a" stroke="#1a1a1a" stroke-width="0.02" textLength="5.03" lengthAdjust="spacingAndGlyphs">4</text>
<line x1="329.7" y1="417.3" x2="332.9" y2="417.3" stroke="#1a1a1a" stroke-width="1"/>
<text x="325.3" y="420.25" font-size="11.3" text-anchor="end" fill="#1a1a1a" stroke="#1a1a1a" stroke-width="0.02" textLength="5.03" lengthAdjust="spacingAndGlyphs">5</text>
<line x1="331" y1="516.57" x2="332.9" y2="516.57" stroke="#1a1a1a" stroke-width="1"/>
<line x1="331" y1="494.51" x2="332.9" y2="494.51" stroke="#1a1a1a" stroke-width="1"/>
<line x1="331" y1="472.45" x2="332.9" y2="472.45" stroke="#1a1a1a" stroke-width="1"/>
<line x1="331" y1="450.39" x2="332.9" y2="450.39" stroke="#1a1a1a" stroke-width="1"/>
<line x1="331" y1="428.33" x2="332.9" y2="428.33" stroke="#1a1a1a" stroke-width="1"/>
<text x="349.8" y="539.5" font-size="11.3" text-anchor="middle" fill="#1a1a1a" stroke="#1a1a1a" stroke-width="0.02" textLength="5.03" lengthAdjust="spacingAndGlyphs">4</text>
<text x="382.92" y="539.5" font-size="11.3" text-anchor="middle" fill="#1a1a1a" stroke="#1a1a1a" stroke-width="0.02" textLength="5.03" lengthAdjust="spacingAndGlyphs">8</text>
<text x="416.04" y="539.5" font-size="11.3" text-anchor="middle" fill="#1a1a1a" stroke="#1a1a1a" stroke-width="0.02" textLength="10.05" lengthAdjust="spacingAndGlyphs">12</text>
<text x="449.16" y="539.5" font-size="11.3" text-anchor="middle" fill="#1a1a1a" stroke="#1a1a1a" stroke-width="0.02" textLength="10.05" lengthAdjust="spacingAndGlyphs">16</text>
<text x="482.28" y="539.5" font-size="11.3" text-anchor="middle" fill="#1a1a1a" stroke="#1a1a1a" stroke-width="0.02" textLength="10.05" lengthAdjust="spacingAndGlyphs">20</text>
<text x="371.3" y="554.5" font-size="12.8" text-anchor="start" fill="#1a1a1a" stroke="#1a1a1a" stroke-width="0.2" textLength="88.2" lengthAdjust="spacingAndGlyphs">Weeks after transplant</text>
<text transform="translate(301 518.3) rotate(-90)" font-size="12.4" text-anchor="start" fill="#1a1a1a" stroke="#1a1a1a" stroke-width="0.08" textLength="95" lengthAdjust="spacingAndGlyphs">CD45.2<tspan dy="-4.6" font-size="9">+</tspan><tspan dy="4.6">mCherry</tspan><tspan dy="-4.6" font-size="9">+</tspan><tspan dy="4.6"> cells</tspan></text>
<text transform="translate(314.8 526.6) rotate(-90)" font-size="12.4" text-anchor="start" fill="#1a1a1a" stroke="#1a1a1a" stroke-width="0.08" textLength="112" lengthAdjust="spacingAndGlyphs">normalized to control shRNA</text>
<line x1="349.8" y1="499.3" x2="349.8" y2="511.7" stroke="#1a1a1a" stroke-width="1.15"/>
<line x1="347" y1="499.3" x2="352.6" y2="499.3" stroke="#1a1a1a" stroke-width="1.15"/>
<line x1="347" y1="511.7" x2="352.6" y2="511.7" stroke="#1a1a1a" stroke-width="1.15"/>
<line x1="382.92" y1="501.7" x2="382.92" y2="509.3" stroke="#1a1a1a" stroke-width="1.15"/>
<line x1="380.12" y1="501.7" x2="385.72" y2="501.7" stroke="#1a1a1a" stroke-width="1.15"/>
<line x1="380.12" y1="509.3" x2="385.72" y2="509.3" stroke="#1a1a1a" stroke-width="1.15"/>
<line x1="416.04" y1="501.5" x2="416.04" y2="509.5" stroke="#1a1a1a" stroke-width="1.15"/>
<line x1="413.24" y1="501.5" x2="418.84" y2="501.5" stroke="#1a1a1a" stroke-width="1.15"/>
<line x1="413.24" y1="509.5" x2="418.84" y2="509.5" stroke="#1a1a1a" stroke-width="1.15"/>
<line x1="449.16" y1="501.3" x2="449.16" y2="509.7" stroke="#1a1a1a" stroke-width="1.15"/>
<line x1="446.36" y1="501.3" x2="451.96" y2="501.3" stroke="#1a1a1a" stroke-width="1.15"/>
<line x1="446.36" y1="509.7" x2="451.96" y2="509.7" stroke="#1a1a1a" stroke-width="1.15"/>
<line x1="482.28" y1="501.1" x2="482.28" y2="509.9" stroke="#1a1a1a" stroke-width="1.15"/>
<line x1="479.48" y1="501.1" x2="485.08" y2="501.1" stroke="#1a1a1a" stroke-width="1.15"/>
<line x1="479.48" y1="509.9" x2="485.08" y2="509.9" stroke="#1a1a1a" stroke-width="1.15"/>
<line x1="349.8" y1="505.8" x2="482.28" y2="505.8" stroke="#70b545" stroke-width="1.9"/>
<circle cx="349.8" cy="505.5" r="2.65" fill="#6cb33f" stroke="#111" stroke-width="1.15"/>
<circle cx="382.92" cy="505.5" r="2.65" fill="#6cb33f" stroke="#111" stroke-width="1.15"/>
<circle cx="416.04" cy="505.5" r="2.65" fill="#6cb33f" stroke="#111" stroke-width="1.15"/>
<circle cx="449.16" cy="505.5" r="2.65" fill="#6cb33f" stroke="#111" stroke-width="1.15"/>
<circle cx="482.28" cy="505.5" r="2.65" fill="#6cb33f" stroke="#111" stroke-width="1.15"/>
<line x1="349.8" y1="469.5" x2="349.8" y2="488.3" stroke="#1a1a1a" stroke-width="1.15"/>
<line x1="347" y1="469.5" x2="352.6" y2="469.5" stroke="#1a1a1a" stroke-width="1.15"/>
<line x1="347" y1="488.3" x2="352.6" y2="488.3" stroke="#1a1a1a" stroke-width="1.15"/>
<line x1="382.92" y1="460.5" x2="382.92" y2="481.3" stroke="#1a1a1a" stroke-width="1.15"/>
<line x1="380.12" y1="460.5" x2="385.72" y2="460.5" stroke="#1a1a1a" stroke-width="1.15"/>
<line x1="380.12" y1="481.3" x2="385.72" y2="481.3" stroke="#1a1a1a" stroke-width="1.15"/>
<line x1="416.04" y1="470.4" x2="416.04" y2="483.4" stroke="#1a1a1a" stroke-width="1.15"/>
<line x1="413.24" y1="470.4" x2="418.84" y2="470.4" stroke="#1a1a1a" stroke-width="1.15"/>
<line x1="413.24" y1="483.4" x2="418.84" y2="483.4" stroke="#1a1a1a" stroke-width="1.15"/>
<line x1="449.16" y1="465.25" x2="449.16" y2="477.75" stroke="#1a1a1a" stroke-width="1.15"/>
<line x1="446.36" y1="465.25" x2="451.96" y2="465.25" stroke="#1a1a1a" stroke-width="1.15"/>
<line x1="446.36" y1="477.75" x2="451.96" y2="477.75" stroke="#1a1a1a" stroke-width="1.15"/>
<line x1="482.28" y1="461.2" x2="482.28" y2="475" stroke="#1a1a1a" stroke-width="1.15"/>
<line x1="479.48" y1="461.2" x2="485.08" y2="461.2" stroke="#1a1a1a" stroke-width="1.15"/>
<line x1="479.48" y1="475" x2="485.08" y2="475" stroke="#1a1a1a" stroke-width="1.15"/>
<line x1="349.8" y1="455.1" x2="349.8" y2="473.1" stroke="#1a1a1a" stroke-width="1.15"/>
<line x1="347" y1="455.1" x2="352.6" y2="455.1" stroke="#1a1a1a" stroke-width="1.15"/>
<line x1="347" y1="473.1" x2="352.6" y2="473.1" stroke="#1a1a1a" stroke-width="1.15"/>
<line x1="382.92" y1="453" x2="382.92" y2="479.6" stroke="#1a1a1a" stroke-width="1.15"/>
<line x1="380.12" y1="453" x2="385.72" y2="453" stroke="#1a1a1a" stroke-width="1.15"/>
<line x1="380.12" y1="479.6" x2="385.72" y2="479.6" stroke="#1a1a1a" stroke-width="1.15"/>
<line x1="416.04" y1="464.5" x2="416.04" y2="482.5" stroke="#1a1a1a" stroke-width="1.15"/>
<line x1="413.24" y1="464.5" x2="418.84" y2="464.5" stroke="#1a1a1a" stroke-width="1.15"/>
<line x1="413.24" y1="482.5" x2="418.84" y2="482.5" stroke="#1a1a1a" stroke-width="1.15"/>
<line x1="449.16" y1="457.5" x2="449.16" y2="469.5" stroke="#1a1a1a" stroke-width="1.15"/>
<line x1="446.36" y1="457.5" x2="451.96" y2="457.5" stroke="#1a1a1a" stroke-width="1.15"/>
<line x1="446.36" y1="469.5" x2="451.96" y2="469.5" stroke="#1a1a1a" stroke-width="1.15"/>
<line x1="482.28" y1="447.2" x2="482.28" y2="469.6" stroke="#1a1a1a" stroke-width="1.15"/>
<line x1="479.48" y1="447.2" x2="485.08" y2="447.2" stroke="#1a1a1a" stroke-width="1.15"/>
<line x1="479.48" y1="469.6" x2="485.08" y2="469.6" stroke="#1a1a1a" stroke-width="1.15"/>
<polyline points="349.8,478.9 382.92,470.9 416.04,476.9 449.16,471.5 482.28,468.1" fill="none" stroke="#e3a08e" stroke-width="1.9" stroke-linejoin="round"/>
<polyline points="349.8,464.1 382.92,466.3 416.04,473.5 449.16,463.5 482.28,458.4" fill="none" stroke="#a0002c" stroke-width="1.9" stroke-linejoin="round"/>
<circle cx="349.8" cy="478.9" r="2.65" fill="#eaa898" stroke="#111" stroke-width="1.15"/>
<circle cx="382.92" cy="470.9" r="2.65" fill="#eaa898" stroke="#111" stroke-width="1.15"/>
<circle cx="416.04" cy="476.9" r="2.65" fill="#eaa898" stroke="#111" stroke-width="1.15"/>
<circle cx="449.16" cy="471.5" r="2.65" fill="#eaa898" stroke="#111" stroke-width="1.15"/>
<circle cx="482.28" cy="468.1" r="2.65" fill="#eaa898" stroke="#111" stroke-width="1.15"/>
<circle cx="349.8" cy="464.1" r="2.65" fill="#b0002e" stroke="#111" stroke-width="1.15"/>
<circle cx="382.92" cy="466.3" r="2.65" fill="#b0002e" stroke="#111" stroke-width="1.15"/>
<circle cx="416.04" cy="473.5" r="2.65" fill="#b0002e" stroke="#111" stroke-width="1.15"/>
<circle cx="449.16" cy="463.5" r="2.65" fill="#b0002e" stroke="#111" stroke-width="1.15"/>
<circle cx="482.28" cy="458.4" r="2.65" fill="#b0002e" stroke="#111" stroke-width="1.15"/>
<text x="349.8" y="437.5" font-size="9" text-anchor="middle" fill="#111" stroke="#111" stroke-width="0.3" textLength="3.5" lengthAdjust="spacingAndGlyphs">*</text>
<text x="349.8" y="449" font-size="9.2" text-anchor="middle" fill="#111" stroke="#111" stroke-width="0.2" textLength="4.4" lengthAdjust="spacingAndGlyphs">#</text>
<text x="382.92" y="435.4" font-size="9" text-anchor="middle" fill="#111" stroke="#111" stroke-width="0.3" textLength="7" lengthAdjust="spacingAndGlyphs">**</text>
<text x="382.92" y="446.1" font-size="9.2" text-anchor="middle" fill="#111" stroke="#111" stroke-width="0.2" textLength="4.4" lengthAdjust="spacingAndGlyphs">#</text>
<text x="416.04" y="446.2" font-size="9" text-anchor="middle" fill="#111" stroke="#111" stroke-width="0.3" textLength="7" lengthAdjust="spacingAndGlyphs">**</text>
<text x="416.04" y="457.2" font-size="9.2" text-anchor="middle" fill="#111" stroke="#111" stroke-width="0.2" textLength="8.8" lengthAdjust="spacingAndGlyphs">##</text>
<text x="449.16" y="440.5" font-size="9" text-anchor="middle" fill="#111" stroke="#111" stroke-width="0.3" textLength="10.5" lengthAdjust="spacingAndGlyphs">***</text>
<text x="449.16" y="451" font-size="9.2" text-anchor="middle" fill="#111" stroke="#111" stroke-width="0.2" textLength="13.2" lengthAdjust="spacingAndGlyphs">###</text>
<text x="482.28" y="432" font-size="9" text-anchor="middle" fill="#111" stroke="#111" stroke-width="0.3" textLength="10.5" lengthAdjust="spacingAndGlyphs">***</text>
<text x="482.28" y="442.8" font-size="9.2" text-anchor="middle" fill="#111" stroke="#111" stroke-width="0.2" textLength="8.8" lengthAdjust="spacingAndGlyphs">##</text>
<line x1="329.6" y1="393.9" x2="341.6" y2="393.9" stroke="#70b545" stroke-width="1.3"/>
<circle cx="335.6" cy="393.9" r="2.65" fill="#6cb33f" stroke="#111" stroke-width="1.15"/>
<text x="344.9" y="397.1" font-size="9.2" text-anchor="start" fill="#1a1a1a" stroke="#1a1a1a" stroke-width="0.2" textLength="58.8" lengthAdjust="spacingAndGlyphs">Control shRNA</text>
<line x1="415" y1="393.9" x2="427" y2="393.9" stroke="#a0002c" stroke-width="1.3"/>
<circle cx="421" cy="393.9" r="2.65" fill="#b0002e" stroke="#111" stroke-width="1.15"/>
<text x="430.5" y="397.1" font-size="9.2" text-anchor="start" fill="#1a1a1a" stroke="#1a1a1a" stroke-width="0.2" textLength="71.3" lengthAdjust="spacingAndGlyphs"><tspan style="font-style:italic">Gprasp2</tspan> shRNA A</text>
<line x1="415" y1="404.4" x2="427" y2="404.4" stroke="#e3a08e" stroke-width="1.3"/>
<circle cx="421" cy="404.4" r="2.65" fill="#eaa898" stroke="#111" stroke-width="1.15"/>
<text x="430.5" y="407.6" font-size="9.2" text-anchor="start" fill="#1a1a1a" stroke="#1a1a1a" stroke-width="0.2" textLength="71.3" lengthAdjust="spacingAndGlyphs"><tspan style="font-style:italic">Gprasp2</tspan> shRNA B</text>
<text x="12.2" y="587" font-size="13.4" text-anchor="start" fill="#000" stroke="#000" stroke-width="0.35" style="font-weight:bold;">E</text>
<line x1="78.5" y1="604.8" x2="78.5" y2="732" stroke="#1a1a1a" stroke-width="1.2"/>
<line x1="77.9" y1="731.3" x2="262.3" y2="731.3" stroke="#1a1a1a" stroke-width="1.4"/>
<line x1="75" y1="731.3" x2="78.5" y2="731.3" stroke="#1a1a1a" stroke-width="1"/>
<text x="71.6" y="734.3" font-size="11.3" text-anchor="end" fill="#1a1a1a" stroke="#1a1a1a" stroke-width="0.02" textLength="5.03" lengthAdjust="spacingAndGlyphs">0</text>
<line x1="75" y1="690.5" x2="78.5" y2="690.5" stroke="#1a1a1a" stroke-width="1"/>
<text x="71.6" y="693.5" font-size="11.3" text-anchor="end" fill="#1a1a1a" stroke="#1a1a1a" stroke-width="0.02" textLength="5.03" lengthAdjust="spacingAndGlyphs">2</text>
<line x1="75" y1="649.7" x2="78.5" y2="649.7" stroke="#1a1a1a" stroke-width="1"/>
<text x="71.6" y="652.7" font-size="11.3" text-anchor="end" fill="#1a1a1a" stroke="#1a1a1a" stroke-width="0.02" textLength="5.03" lengthAdjust="spacingAndGlyphs">4</text>
<line x1="75" y1="608.9" x2="78.5" y2="608.9" stroke="#1a1a1a" stroke-width="1"/>
<text x="71.6" y="611.9" font-size="11.3" text-anchor="end" fill="#1a1a1a" stroke="#1a1a1a" stroke-width="0.02" textLength="5.03" lengthAdjust="spacingAndGlyphs">6</text>
<line x1="76.6" y1="710.9" x2="78.5" y2="710.9" stroke="#1a1a1a" stroke-width="1"/>
<line x1="76.6" y1="670.1" x2="78.5" y2="670.1" stroke="#1a1a1a" stroke-width="1"/>
<line x1="76.6" y1="629.3" x2="78.5" y2="629.3" stroke="#1a1a1a" stroke-width="1"/>
<text transform="translate(46.7 716.1) rotate(-90)" font-size="12.4" text-anchor="start" fill="#1a1a1a" stroke="#1a1a1a" stroke-width="0.08" textLength="95.2" lengthAdjust="spacingAndGlyphs">CD45.2<tspan dy="-4.6" font-size="9">+</tspan><tspan dy="4.6">mCherry</tspan><tspan dy="-4.6" font-size="9">+</tspan><tspan dy="4.6"> cells</tspan></text>
<text transform="translate(59.8 724.3) rotate(-90)" font-size="12.4" text-anchor="start" fill="#1a1a1a" stroke="#1a1a1a" stroke-width="0.08" textLength="112.4" lengthAdjust="spacingAndGlyphs">normalized to control shRNA</text>
<line x1="88" y1="708.3" x2="88" y2="711.4" stroke="#111" stroke-width="1"/>
<line x1="86.3" y1="708.3" x2="89.7" y2="708.3" stroke="#111" stroke-width="1.1"/>
<line x1="95.95" y1="633.3" x2="95.95" y2="645.7" stroke="#111" stroke-width="1"/>
<line x1="94.25" y1="633.3" x2="97.65" y2="633.3" stroke="#111" stroke-width="1.1"/>
<line x1="103.85" y1="635.6" x2="103.85" y2="649" stroke="#111" stroke-width="1"/>
<line x1="102.15" y1="635.6" x2="105.55" y2="635.6" stroke="#111" stroke-width="1.1"/>
<rect x="85" y="710.9" width="6" height="20.4" fill="#6aa83c"/>
<rect x="92.95" y="645.2" width="6" height="86.1" fill="#2d4a80"/>
<rect x="100.85" y="648.5" width="6" height="82.8" fill="#a5002e"/>
<line x1="85.7" y1="629.8" x2="98.2" y2="629.8" stroke="#1a1a1a" stroke-width="1.3"/>
<text x="91.8" y="628.9" font-size="8.6" text-anchor="middle" fill="#111" stroke="#111" stroke-width="0.2" style="font-weight:bold;" textLength="3.9" lengthAdjust="spacingAndGlyphs">*</text>
<line x1="85.7" y1="618.3" x2="108.2" y2="618.3" stroke="#1a1a1a" stroke-width="1.3"/>
<text x="96.8" y="617.4" font-size="8.6" text-anchor="middle" fill="#111" stroke="#111" stroke-width="0.2" style="font-weight:bold;" textLength="3.9" lengthAdjust="spacingAndGlyphs">*</text>
<text transform="translate(99.2 735.4) rotate(-90)" font-size="10.3" text-anchor="end" fill="#1a1a1a" stroke="#1a1a1a" stroke-width="0.08" textLength="18" lengthAdjust="spacingAndGlyphs">HSC</text>
<line x1="117.85" y1="708.7" x2="117.85" y2="711.4" stroke="#111" stroke-width="1"/>
<line x1="116.15" y1="708.7" x2="119.55" y2="708.7" stroke="#111" stroke-width="1.1"/>
<line x1="125.8" y1="647.7" x2="125.8" y2="657.6" stroke="#111" stroke-width="1"/>
<line x1="124.1" y1="647.7" x2="127.5" y2="647.7" stroke="#111" stroke-width="1.1"/>
<line x1="133.7" y1="664.4" x2="133.7" y2="671.7" stroke="#111" stroke-width="1"/>
<line x1="132" y1="664.4" x2="135.4" y2="664.4" stroke="#111" stroke-width="1.1"/>
<rect x="114.85" y="710.9" width="6" height="20.4" fill="#6aa83c"/>
<rect x="122.8" y="657.1" width="6" height="74.2" fill="#2d4a80"/>
<rect x="130.7" y="671.2" width="6" height="60.1" fill="#a5002e"/>
<line x1="115.9" y1="643.8" x2="128.6" y2="643.8" stroke="#1a1a1a" stroke-width="1.3"/>
<text x="122.2" y="642.9" font-size="8.6" text-anchor="middle" fill="#111" stroke="#111" stroke-width="0.2" style="font-weight:bold;" textLength="7.8" lengthAdjust="spacingAndGlyphs">**</text>
<line x1="115.9" y1="632.7" x2="138.2" y2="632.7" stroke="#1a1a1a" stroke-width="1.3"/>
<text x="127" y="631.8" font-size="8.6" text-anchor="middle" fill="#111" stroke="#111" stroke-width="0.2" style="font-weight:bold;" textLength="7.8" lengthAdjust="spacingAndGlyphs">**</text>
<text transform="translate(129.05 735.4) rotate(-90)" font-size="10.3" text-anchor="end" fill="#1a1a1a" stroke="#1a1a1a" stroke-width="0.08" textLength="19.1" lengthAdjust="spacingAndGlyphs">MPP</text>
<line x1="147.7" y1="710.6" x2="147.7" y2="711.4" stroke="#111" stroke-width="1"/>
<line x1="146" y1="710.6" x2="149.4" y2="710.6" stroke="#111" stroke-width="1.1"/>
<line x1="155.65" y1="634.6" x2="155.65" y2="642.8" stroke="#111" stroke-width="1"/>
<line x1="153.95" y1="634.6" x2="157.35" y2="634.6" stroke="#111" stroke-width="1.1"/>
<line x1="163.55" y1="662.1" x2="163.55" y2="669.3" stroke="#111" stroke-width="1"/>
<line x1="161.85" y1="662.1" x2="165.25" y2="662.1" stroke="#111" stroke-width="1.1"/>
<rect x="144.7" y="710.9" width="6" height="20.4" fill="#6aa83c"/>
<rect x="152.65" y="642.3" width="6" height="89" fill="#2d4a80"/>
<rect x="160.55" y="668.8" width="6" height="62.5" fill="#a5002e"/>
<line x1="145.7" y1="629.4" x2="157.8" y2="629.4" stroke="#1a1a1a" stroke-width="1.3"/>
<text x="152" y="628.5" font-size="8.6" text-anchor="middle" fill="#111" stroke="#111" stroke-width="0.2" style="font-weight:bold;" textLength="7.8" lengthAdjust="spacingAndGlyphs">**</text>
<line x1="145.7" y1="617.9" x2="167.8" y2="617.9" stroke="#1a1a1a" stroke-width="1.3"/>
<text x="156.8" y="617" font-size="8.6" text-anchor="middle" fill="#111" stroke="#111" stroke-width="0.2" style="font-weight:bold;" textLength="7.8" lengthAdjust="spacingAndGlyphs">**</text>
<text transform="translate(158.9 735.4) rotate(-90)" font-size="10.3" text-anchor="end" fill="#1a1a1a" stroke="#1a1a1a" stroke-width="0.08" textLength="20.4" lengthAdjust="spacingAndGlyphs">CMP</text>
<line x1="177.55" y1="707.7" x2="177.55" y2="711.4" stroke="#111" stroke-width="1"/>
<line x1="175.85" y1="707.7" x2="179.25" y2="707.7" stroke="#111" stroke-width="1.1"/>
<line x1="185.5" y1="643.8" x2="185.5" y2="650.9" stroke="#111" stroke-width="1"/>
<line x1="183.8" y1="643.8" x2="187.2" y2="643.8" stroke="#111" stroke-width="1.1"/>
<line x1="193.4" y1="666" x2="193.4" y2="676.5" stroke="#111" stroke-width="1"/>
<line x1="191.7" y1="666" x2="195.1" y2="666" stroke="#111" stroke-width="1.1"/>
<rect x="174.55" y="710.9" width="6" height="20.4" fill="#6aa83c"/>
<rect x="182.5" y="650.4" width="6" height="80.9" fill="#2d4a80"/>
<rect x="190.4" y="676" width="6" height="55.3" fill="#a5002e"/>
<line x1="173.8" y1="639.8" x2="185.9" y2="639.8" stroke="#1a1a1a" stroke-width="1.3"/>
<text x="180" y="638.9" font-size="8.6" text-anchor="middle" fill="#111" stroke="#111" stroke-width="0.2" style="font-weight:bold;" textLength="3.9" lengthAdjust="spacingAndGlyphs">*</text>
<line x1="173.8" y1="628.3" x2="195.9" y2="628.3" stroke="#1a1a1a" stroke-width="1.3"/>
<text x="185" y="627.4" font-size="8.6" text-anchor="middle" fill="#111" stroke="#111" stroke-width="0.2" style="font-weight:bold;" textLength="11.7" lengthAdjust="spacingAndGlyphs">***</text>
<text transform="translate(188.75 735.4) rotate(-90)" font-size="10.3" text-anchor="end" fill="#1a1a1a" stroke="#1a1a1a" stroke-width="0.08" textLength="21.1" lengthAdjust="spacingAndGlyphs">GMP</text>
<line x1="207.4" y1="708.1" x2="207.4" y2="711.4" stroke="#111" stroke-width="1"/>
<line x1="205.7" y1="708.1" x2="209.1" y2="708.1" stroke="#111" stroke-width="1.1"/>
<line x1="215.35" y1="649.6" x2="215.35" y2="657.6" stroke="#111" stroke-width="1"/>
<line x1="213.65" y1="649.6" x2="217.05" y2="649.6" stroke="#111" stroke-width="1.1"/>
<line x1="223.25" y1="667.7" x2="223.25" y2="680.7" stroke="#111" stroke-width="1"/>
<line x1="221.55" y1="667.7" x2="224.95" y2="667.7" stroke="#111" stroke-width="1.1"/>
<rect x="204.4" y="710.9" width="6" height="20.4" fill="#6aa83c"/>
<rect x="212.35" y="657.1" width="6" height="74.2" fill="#2d4a80"/>
<rect x="220.25" y="680.2" width="6" height="51.1" fill="#a5002e"/>
<line x1="204.5" y1="647.1" x2="217" y2="647.1" stroke="#1a1a1a" stroke-width="1.3"/>
<text x="211" y="646.2" font-size="8.6" text-anchor="middle" fill="#111" stroke="#111" stroke-width="0.2" style="font-weight:bold;" textLength="7.8" lengthAdjust="spacingAndGlyphs">**</text>
<line x1="204.5" y1="635.8" x2="226.7" y2="635.8" stroke="#1a1a1a" stroke-width="1.3"/>
<text x="215.7" y="634.9" font-size="8.6" text-anchor="middle" fill="#111" stroke="#111" stroke-width="0.2" style="font-weight:bold;" textLength="7.8" lengthAdjust="spacingAndGlyphs">**</text>
<text transform="translate(218.6 735.4) rotate(-90)" font-size="10.3" text-anchor="end" fill="#1a1a1a" stroke="#1a1a1a" stroke-width="0.08" textLength="19.4" lengthAdjust="spacingAndGlyphs">MEP</text>
<line x1="237.25" y1="705.4" x2="237.25" y2="711.4" stroke="#111" stroke-width="1"/>
<line x1="235.55" y1="705.4" x2="238.95" y2="705.4" stroke="#111" stroke-width="1.1"/>
<line x1="245.2" y1="642.3" x2="245.2" y2="650.9" stroke="#111" stroke-width="1"/>
<line x1="243.5" y1="642.3" x2="246.9" y2="642.3" stroke="#111" stroke-width="1.1"/>
<line x1="253.1" y1="649.4" x2="253.1" y2="661.1" stroke="#111" stroke-width="1"/>
<line x1="251.4" y1="649.4" x2="254.8" y2="649.4" stroke="#111" stroke-width="1.1"/>
<rect x="234.25" y="710.9" width="6" height="20.4" fill="#6aa83c"/>
<rect x="242.2" y="650.4" width="6" height="80.9" fill="#2d4a80"/>
<rect x="250.1" y="660.6" width="6" height="70.7" fill="#a5002e"/>
<line x1="235.7" y1="639" x2="247.8" y2="639" stroke="#1a1a1a" stroke-width="1.3"/>
<text x="241.7" y="638.1" font-size="8.6" text-anchor="middle" fill="#111" stroke="#111" stroke-width="0.2" style="font-weight:bold;" textLength="3.9" lengthAdjust="spacingAndGlyphs">*</text>
<line x1="235.7" y1="627.5" x2="257.8" y2="627.5" stroke="#1a1a1a" stroke-width="1.3"/>
<text x="246.8" y="626.6" font-size="8.6" text-anchor="middle" fill="#111" stroke="#111" stroke-width="0.2" style="font-weight:bold;" textLength="7.8" lengthAdjust="spacingAndGlyphs">**</text>
<text transform="translate(248.45 735.4) rotate(-90)" font-size="10.3" text-anchor="end" fill="#1a1a1a" stroke="#1a1a1a" stroke-width="0.08" textLength="17.4" lengthAdjust="spacingAndGlyphs">CLP</text>
<rect x="86.3" y="576.9" width="13.1" height="7.1" fill="#6aa83c"/>
<text x="102.6" y="583.5" font-size="10" text-anchor="start" fill="#1a1a1a" stroke="#1a1a1a" stroke-width="0.2" textLength="58.4" lengthAdjust="spacingAndGlyphs">Control shRNA</text>
<rect x="173.1" y="576.8" width="12.9" height="7.1" fill="#2d4a80"/>
<text x="189.6" y="583.5" font-size="10" text-anchor="start" fill="#1a1a1a" stroke="#1a1a1a" stroke-width="0.2" style="font-style:italic;" textLength="63.7" lengthAdjust="spacingAndGlyphs">Gprasp1 shRNA</text>
<rect x="173.1" y="593.4" width="12.9" height="7.1" fill="#a5002e"/>
<text x="189.6" y="600.1" font-size="10" text-anchor="start" fill="#1a1a1a" stroke="#1a1a1a" stroke-width="0.2" style="font-style:italic;" textLength="63.7" lengthAdjust="spacingAndGlyphs">Gprasp2 shRNA</text>
<text x="282" y="587.3" font-size="13.4" text-anchor="start" fill="#000" stroke="#000" stroke-width="0.35" style="font-weight:bold;">F</text>
<line x1="333.5" y1="615.7" x2="333.5" y2="732.2" stroke="#1a1a1a" stroke-width="1.2"/>
<line x1="332.9" y1="731.5" x2="507.3" y2="731.5" stroke="#1a1a1a" stroke-width="1.4"/>
<line x1="329.8" y1="731.5" x2="333.5" y2="731.5" stroke="#1a1a1a" stroke-width="1"/>
<text x="326" y="734.5" font-size="11.4" text-anchor="end" fill="#1a1a1a" stroke="#1a1a1a" stroke-width="0.02" textLength="5.07" lengthAdjust="spacingAndGlyphs">0</text>
<line x1="329.8" y1="683.05" x2="333.5" y2="683.05" stroke="#1a1a1a" stroke-width="1"/>
<text x="326" y="686.05" font-size="11.4" text-anchor="end" fill="#1a1a1a" stroke="#1a1a1a" stroke-width="0.02" textLength="10.14" lengthAdjust="spacingAndGlyphs">50</text>
<line x1="329.8" y1="634.6" x2="333.5" y2="634.6" stroke="#1a1a1a" stroke-width="1"/>
<text x="326" y="637.6" font-size="11.4" text-anchor="end" fill="#1a1a1a" stroke="#1a1a1a" stroke-width="0.02" textLength="15.21" lengthAdjust="spacingAndGlyphs">100</text>
<line x1="331.5" y1="707.27" x2="333.5" y2="707.27" stroke="#1a1a1a" stroke-width="1"/>
<line x1="331.5" y1="658.83" x2="333.5" y2="658.83" stroke="#1a1a1a" stroke-width="1"/>
<text transform="translate(290.7 698.6) rotate(-90)" font-size="12.4" text-anchor="start" fill="#1a1a1a" stroke="#1a1a1a" stroke-width="0.08" textLength="49.8" lengthAdjust="spacingAndGlyphs">Lineage % of</text>
<text transform="translate(303.8 719.5) rotate(-90)" font-size="12.4" text-anchor="start" fill="#1a1a1a" stroke="#1a1a1a" stroke-width="0.08" textLength="93.7" lengthAdjust="spacingAndGlyphs">CD45.2<tspan dy="-4.6" font-size="9">+</tspan><tspan dy="4.6">mCherry</tspan><tspan dy="-4.6" font-size="9">+</tspan><tspan dy="4.6"> cells</tspan></text>
<rect x="341.1" y="638.1" width="31.7" height="7.3" fill="#de8a1c"/>
<rect x="341.1" y="645.4" width="31.7" height="59.1" fill="#eabd27"/>
<rect x="341.1" y="704.5" width="31.7" height="27" fill="#51265f"/>
<line x1="356.95" y1="636" x2="356.95" y2="638.4" stroke="#111" stroke-width="1.1"/>
<line x1="349.15" y1="636" x2="364.75" y2="636" stroke="#111" stroke-width="1.1"/>
<line x1="356.95" y1="639.6" x2="356.95" y2="645.7" stroke="#111" stroke-width="1.1"/>
<line x1="349.15" y1="639.6" x2="364.75" y2="639.6" stroke="#111" stroke-width="1.1"/>
<line x1="356.95" y1="696.9" x2="356.95" y2="704.8" stroke="#111" stroke-width="1.1"/>
<line x1="349.55" y1="696.9" x2="365.15" y2="696.9" stroke="#111" stroke-width="1.1"/>
<rect x="404.6" y="634.2" width="31.7" height="10.3" fill="#de8a1c"/>
<rect x="404.6" y="644.5" width="31.7" height="54.3" fill="#eabd27"/>
<rect x="404.6" y="698.8" width="31.7" height="32.7" fill="#51265f"/>
<line x1="420.45" y1="632.3" x2="420.45" y2="634.5" stroke="#111" stroke-width="1.1"/>
<line x1="412.65" y1="632.3" x2="428.25" y2="632.3" stroke="#111" stroke-width="1.1"/>
<line x1="420.45" y1="642.2" x2="420.45" y2="644.8" stroke="#111" stroke-width="1.1"/>
<line x1="412.65" y1="642.2" x2="428.25" y2="642.2" stroke="#111" stroke-width="1.1"/>
<line x1="420.45" y1="696.2" x2="420.45" y2="699.1" stroke="#111" stroke-width="1.1"/>
<line x1="413.05" y1="696.2" x2="428.65" y2="696.2" stroke="#111" stroke-width="1.1"/>
<rect x="468.1" y="634.6" width="31.7" height="9.7" fill="#de8a1c"/>
<rect x="468.1" y="644.3" width="31.7" height="50.8" fill="#eabd27"/>
<rect x="468.1" y="695.1" width="31.7" height="36.4" fill="#51265f"/>
<line x1="483.95" y1="633" x2="483.95" y2="634.9" stroke="#111" stroke-width="1.1"/>
<line x1="476.15" y1="633" x2="491.75" y2="633" stroke="#111" stroke-width="1.1"/>
<line x1="483.95" y1="640.4" x2="483.95" y2="644.6" stroke="#111" stroke-width="1.1"/>
<line x1="476.15" y1="640.4" x2="491.75" y2="640.4" stroke="#111" stroke-width="1.1"/>
<line x1="483.95" y1="691.9" x2="483.95" y2="695.4" stroke="#111" stroke-width="1.1"/>
<line x1="476.55" y1="691.9" x2="492.15" y2="691.9" stroke="#111" stroke-width="1.1"/>
<text x="341.3" y="742.7" font-size="9.9" text-anchor="start" fill="#1a1a1a" stroke="#1a1a1a" stroke-width="0.2" style="font-style:italic;" textLength="31.6" lengthAdjust="spacingAndGlyphs">Control</text>
<text x="342.5" y="754.2" font-size="9.9" text-anchor="start" fill="#1a1a1a" stroke="#1a1a1a" stroke-width="0.2" textLength="28.8" lengthAdjust="spacingAndGlyphs">shRNA</text>
<text x="403.2" y="742.7" font-size="9.9" text-anchor="start" fill="#1a1a1a" stroke="#1a1a1a" stroke-width="0.2" style="font-style:italic;" textLength="35.2" lengthAdjust="spacingAndGlyphs">Gprasp1</text>
<text x="406" y="754.2" font-size="9.9" text-anchor="start" fill="#1a1a1a" stroke="#1a1a1a" stroke-width="0.2" textLength="28.8" lengthAdjust="spacingAndGlyphs">shRNA</text>
<text x="466.5" y="742.7" font-size="9.9" text-anchor="start" fill="#1a1a1a" stroke="#1a1a1a" stroke-width="0.2" style="font-style:italic;" textLength="35.5" lengthAdjust="spacingAndGlyphs">Gprasp2</text>
<text x="469.3" y="754.2" font-size="9.9" text-anchor="start" fill="#1a1a1a" stroke="#1a1a1a" stroke-width="0.2" textLength="28.8" lengthAdjust="spacingAndGlyphs">shRNA</text>
<rect x="335" y="592.6" width="12.4" height="8.4" fill="#de8a1c"/>
<text x="351.2" y="599.5" font-size="9.6" text-anchor="start" fill="#1a1a1a" stroke="#1a1a1a" stroke-width="0.2" textLength="24.2" lengthAdjust="spacingAndGlyphs">T cells</text>
<rect x="386.4" y="592.6" width="12.4" height="8.4" fill="#eabd27"/>
<text x="402.3" y="599.5" font-size="9.6" text-anchor="start" fill="#1a1a1a" stroke="#1a1a1a" stroke-width="0.2" textLength="24.8" lengthAdjust="spacingAndGlyphs">B cells</text>
<rect x="438" y="592.6" width="12.4" height="8.4" fill="#51265f"/>
<text x="453.9" y="599.5" font-size="9.6" text-anchor="start" fill="#1a1a1a" stroke="#1a1a1a" stroke-width="0.2" textLength="51.5" lengthAdjust="spacingAndGlyphs">Myeloid cells</text>
<rect x="0" y="0" width="520" height="765" fill="none" stroke="#000" stroke-width="3"/>
</svg>
</body></html>
